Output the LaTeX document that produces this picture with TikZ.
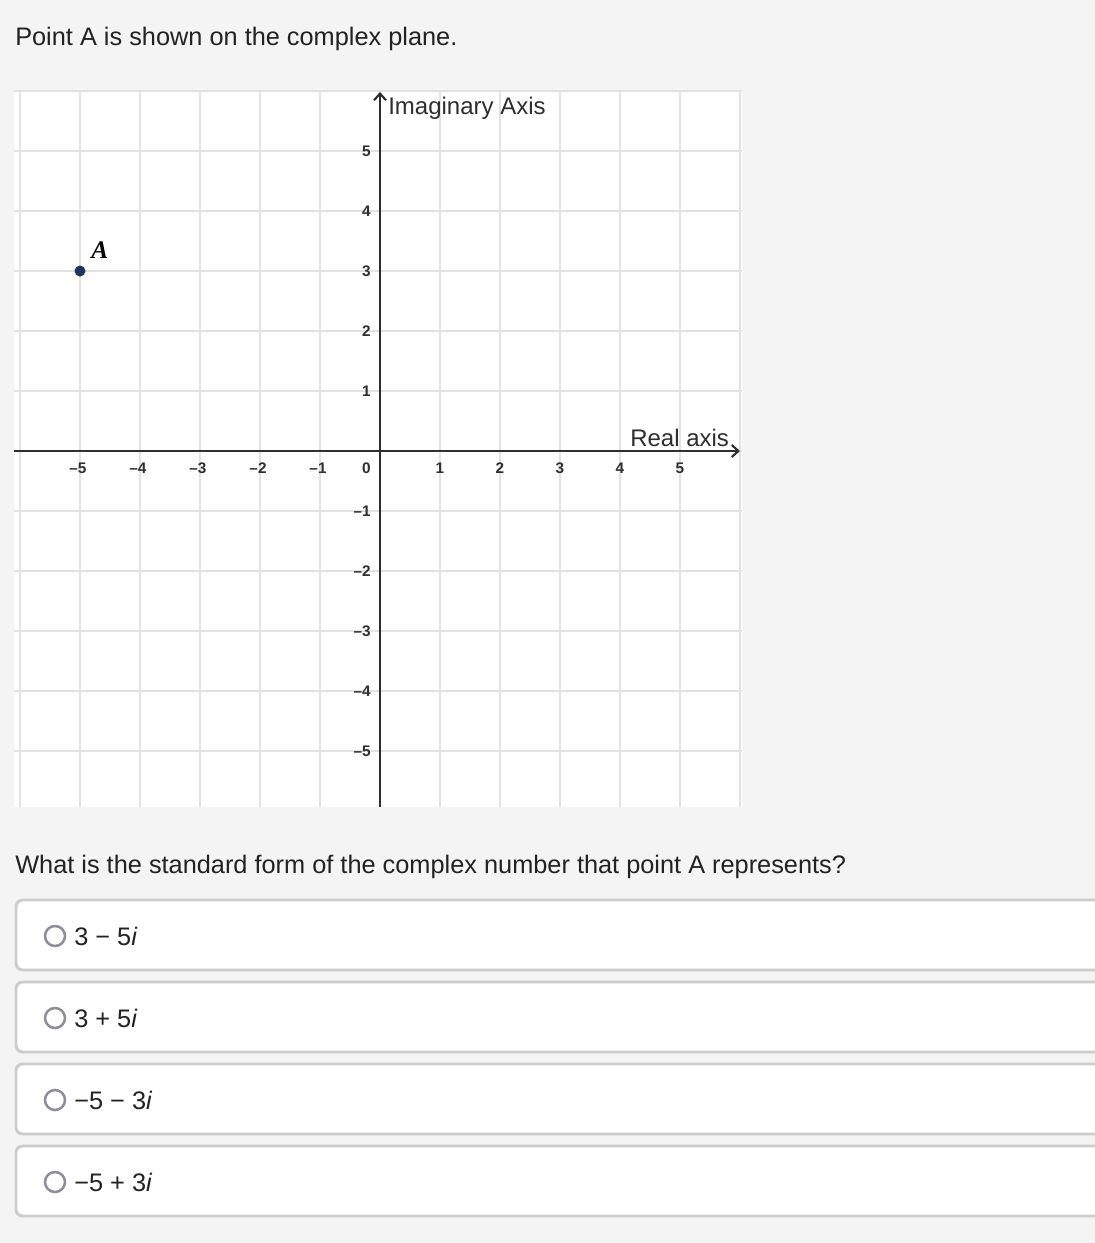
\documentclass[tikz,border=0pt]{standalone}
\usepackage{fontspec}
\setmainfont{Liberation Sans}
\newfontfamily\ptfont{Liberation Serif}
\usetikzlibrary{arrows.meta,positioning}
\definecolor{pagebg}{HTML}{F4F4F4}
\definecolor{gridcol}{HTML}{E2E2E2}
\definecolor{axiscol}{HTML}{2E2E2E}
\definecolor{txtcol}{HTML}{222222}
\definecolor{boxcol}{HTML}{CCCCCC}
\definecolor{radiocol}{HTML}{8E8E9A}
\definecolor{dotcol}{HTML}{1C3461}
\tikzset{
  txt/.style={font=\fontsize{19}{22}\selectfont, text=txtcol, inner sep=0pt},
  ticklab/.style={font=\fontsize{11.5}{13}\selectfont\bfseries, text=axiscol, inner sep=0pt},
  axlab/.style={font=\fontsize{18}{21}\selectfont, text=axiscol, inner sep=0pt},
  answerbox/.style={draw=boxcol, line width=2.2pt, fill=white, rounded corners=5pt},
  radio/.style={draw=radiocol, line width=1.9pt, fill=white}
}
\begin{document}
\begin{tikzpicture}[x=0.75pt,y=-0.75pt]
  \useasboundingbox (0,0) rectangle (1095,1243);
  \fill[pagebg] (0,0) rectangle (1095,1243);
  \node[txt, anchor=base west] (title) at (15,45) {Point A is shown on the complex plane.};
  % grid
  \coordinate (O) at (380,451);
  \fill[white] (14,90) rectangle (742,807);
  \foreach \i in {0,...,12}
    \draw[gridcol, line width=1.5pt] (20+60*\i,90) -- (20+60*\i,807);
  \foreach \j in {0,...,11}
    \draw[gridcol, line width=1.5pt] (14,91+60*\j) -- (742,91+60*\j);
  % axes
  \coordinate (xl) at (14,451);
  \coordinate (xr) at (740,451);
  \coordinate (yb) at (380,807);
  \coordinate (yt) at (380,92);
  \draw[axiscol, line width=1.6pt, -{Straight Barb[length=5pt,width=9pt]}] (xl) -- (xr);
  \draw[axiscol, line width=1.6pt, -{Straight Barb[length=5pt,width=9pt]}] (yb) -- (yt);
  \node[axlab, anchor=base west] (imlab) at (388,114) {Imaginary Axis};
  \node[axlab, anchor=base west] (relab) at (630,446) {Real axis};
  % tick labels
  \foreach \k in {1,...,5} {
    \node[ticklab, anchor=base] (xp\k) at (380+60*\k,473) {\k};
    \node[ticklab, anchor=base] (xn\k) at (378-60*\k,473) {–\k};
    \node[ticklab, anchor=base east] (yp\k) at (371,456-60*\k) {\k};
    \node[ticklab, anchor=base east] (yn\k) at (371,456+60*\k) {–\k};
  }
  \node[ticklab, anchor=base east] (x0) at (371,473) {0};
  % point A
  \fill[dotcol] (80,271) circle[radius=5.5] coordinate (A);
  \node[font=\fontsize{19}{21}\selectfont\ptfont\bfseries\itshape, inner sep=0pt, anchor=base west] (Alab) at (91,258) {A};
  % question
  \node[txt, anchor=base west] (quest) at (15,873) {What is the standard form of the complex number that point A represents?};
  % answers
  \begin{scope}
    \clip (0,0) rectangle (1095,1243);
    \foreach \y/\ans [count=\n] in {
        900/{3 − 5\textit{i}},
        982/{3 + 5\textit{i}},
        1064/{−5 − 3\textit{i}},
        1146/{−5 + 3\textit{i}}} {
      \draw[answerbox] (16,\y) rectangle (1110,\y+70);
      \draw[radio] (55,\y+36) circle[radius=10] coordinate (rb\n);
      \node[txt, anchor=base west] (ans\n) at (74,\y+45) {\ans};
    }
  \end{scope}
\end{tikzpicture}
\end{document}
